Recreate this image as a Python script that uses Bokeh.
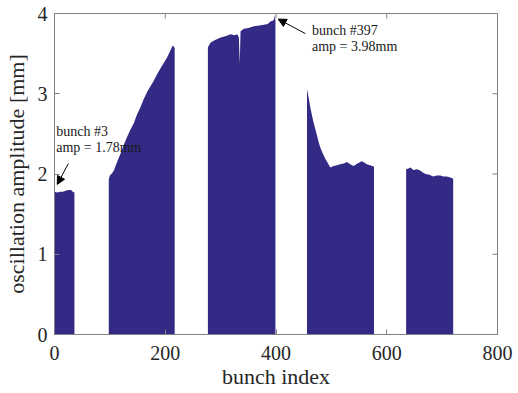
from bokeh.plotting import figure
from bokeh.models import Range1d, Arrow, NormalHead, Label, FixedTicker
from bokeh.embed import file_html
from bokeh.resources import INLINE

# bunch trains: bunch index and oscillation amplitude [mm]
train1_x = [0, 5, 10, 15, 20, 25, 30, 33, 36]
train1_y = [1.78, 1.77, 1.78, 1.78, 1.79, 1.80, 1.80, 1.78, 1.77]

train2_x = [98, 100, 104, 107, 113, 119, 125, 131, 137, 143, 149, 155, 161, 167, 173, 179, 185, 191, 197, 203, 208, 212, 214, 217]
train2_y = [1.93, 1.98, 2.01, 2.04, 2.15, 2.25, 2.36, 2.46, 2.55, 2.63, 2.74, 2.83, 2.93, 3.02, 3.09, 3.16, 3.24, 3.31, 3.38, 3.45, 3.52, 3.58, 3.60, 3.57]

train3_x = [277, 282, 290, 300, 310, 318, 325, 330, 333, 334.5, 336, 342, 350, 360, 370, 378, 385, 390, 394, 396, 397, 398, 399]
train3_y = [3.58, 3.64, 3.67, 3.70, 3.72, 3.74, 3.73, 3.74, 3.70, 3.37, 3.78, 3.81, 3.82, 3.84, 3.85, 3.86, 3.87, 3.90, 3.91, 3.92, 3.98, 3.93, 3.92]

train4_x = [456, 459, 462, 465, 468, 471, 474, 477, 480, 485, 489, 494, 498, 504, 510, 516, 522, 528, 534, 540, 547, 555, 560, 564, 570, 577]
train4_y = [3.06, 2.95, 2.83, 2.73, 2.64, 2.56, 2.48, 2.40, 2.33, 2.25, 2.19, 2.13, 2.08, 2.10, 2.11, 2.12, 2.13, 2.15, 2.12, 2.10, 2.13, 2.16, 2.14, 2.12, 2.11, 2.09]

train5_x = [635, 639, 643, 648, 655, 661, 665, 670, 677, 684, 690, 697, 702, 708, 714, 720]
train5_y = [2.06, 2.07, 2.08, 2.05, 2.06, 2.04, 2.02, 2.00, 1.99, 1.97, 1.98, 1.98, 1.97, 1.97, 1.96, 1.94]

x_ticks = [0, 200, 400, 600, 800]
y_ticks = [0, 1, 2, 3, 4]

FILL = "#332a86"
AXC = "#808080"
TXT = "#262626"
FONT = "Liberation Serif"

XMAX, YMAX = x_ticks[-1], y_ticks[-1]
FW, FH = 443, 321

p = figure(frame_width=FW, frame_height=FH,
           x_range=Range1d(0, XMAX), y_range=Range1d(0, YMAX),
           output_backend="svg", toolbar_location=None,
           min_border_left=54, min_border_right=21, min_border_top=13, min_border_bottom=59)
p.grid.visible = False
p.outline_line_color = AXC
p.background_fill_color = "white"
p.border_fill_color = "white"

for tx, ty in [(train1_x, train1_y), (train2_x, train2_y), (train3_x, train3_y),
               (train4_x, train4_y), (train5_x, train5_y)]:
    p.varea(x=tx, y1=0, y2=ty, fill_color=FILL)

for ax, ticks in [(p.xaxis[0], x_ticks), (p.yaxis[0], y_ticks)]:
    ax.ticker = FixedTicker(ticks=ticks)
    ax.major_tick_in = 5
    ax.major_tick_out = 0
    ax.minor_tick_line_color = None
    ax.axis_line_color = AXC
    ax.major_tick_line_color = AXC
    ax.major_label_text_font = FONT
    ax.major_label_text_color = TXT
    ax.major_label_text_font_size = "20px"
    ax.axis_label_text_font = FONT
    ax.axis_label_text_color = TXT
    ax.axis_label_text_font_style = "normal"
    ax.axis_label_text_font_size = "22px"

p.xaxis[0].axis_label = "bunch index"
p.yaxis[0].axis_label = "oscillation amplitude [mm]"
p.xaxis[0].major_label_standoff = 11
p.xaxis[0].axis_label_standoff = 1
p.yaxis[0].major_label_standoff = 7
p.yaxis[0].axis_label_standoff = 6

# inward ticks on the top and right edges of the box
tick_len_x = 5 * XMAX / FW
tick_len_y = 5 * YMAX / FH
p.segment(x0=x_ticks, y0=[YMAX] * len(x_ticks), x1=x_ticks, y1=[YMAX - tick_len_y] * len(x_ticks),
          line_color=AXC, line_width=1)
p.segment(x0=[XMAX] * len(y_ticks), y0=y_ticks, x1=[XMAX - tick_len_x] * len(y_ticks), y1=y_ticks,
          line_color=AXC, line_width=1)

for x, y, t in [(3, 2.44, "bunch #3"), (3, 2.24, "amp = 1.78mm"),
                (465, 3.70, "bunch #397"), (465, 3.49, "amp = 3.98mm")]:
    p.add_layout(Label(x=x, y=y, text=t, text_font=FONT, text_font_size="14px",
                       text_color="#1a1a1a"))

p.add_layout(Arrow(end=NormalHead(size=8, fill_color="black", line_color="black"),
                   x_start=25, y_start=2.13, x_end=5, y_end=1.87, line_color="black", line_width=1))
p.add_layout(Arrow(end=NormalHead(size=8, fill_color="black", line_color="black"),
                   x_start=453, y_start=3.75, x_end=404, y_end=3.93, line_color="black", line_width=1))

open("out.html", "w").write(file_html(p, INLINE))
